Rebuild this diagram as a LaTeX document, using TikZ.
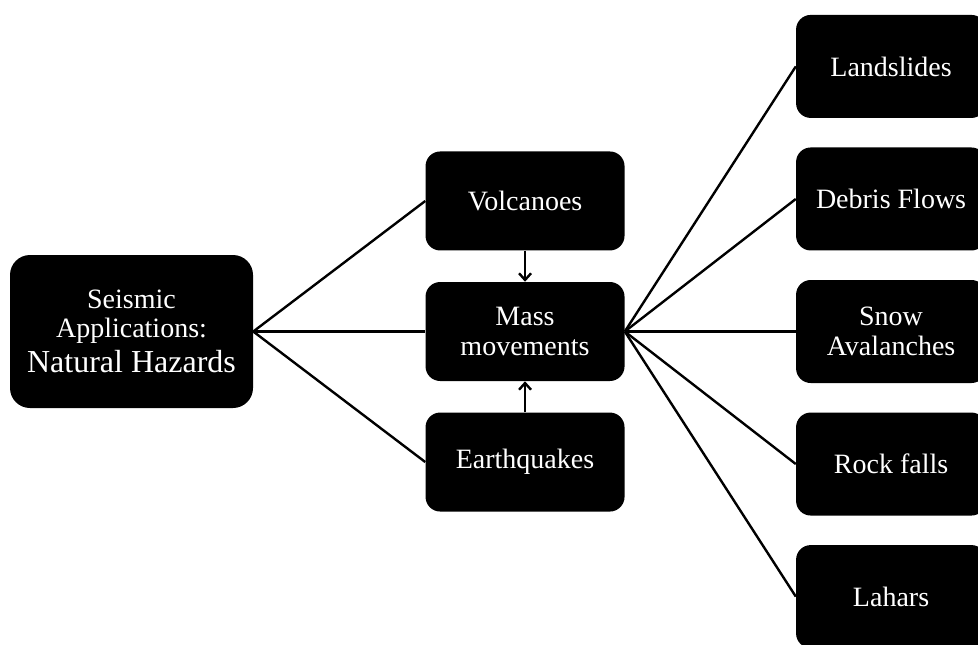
\documentclass[tikz,border=0pt]{standalone}
\usepackage{fontspec}
\setmainfont{Liberation Serif}
\usetikzlibrary{arrows.meta}
\usetikzlibrary{positioning}

\begin{document}
\begin{tikzpicture}[
    x=0.75pt, y=-0.75pt,
    auto,
    font=\fontsize{21}{22}\selectfont,
    >={Straight Barb[length=5pt,width=9pt]}
  ]

  % Global Style Definitions
  \tikzset{
    hazard/.style={fill=black, rounded corners=15pt, minimum width=182.25pt, minimum height=114.75pt, text=white, align=center},
    group/.style={fill=black, rounded corners=11pt, minimum width=149.25pt, minimum height=74.25pt, text=white, align=center},
    kind/.style={fill=black, rounded corners=11pt, minimum width=142.5pt, minimum height=77.25pt, text=white, align=center},
    link/.style={draw=black, line width=1.8pt}
  }

  \useasboundingbox (0,0) rectangle (978,644);

  % Root node
  \node (seismic) [hazard] at (131.5,331.5)
      {Seismic\\Applications:\\[4pt]{\fontsize{24}{29}\selectfont Natural Hazards}};

  % Middle column
  \node (mass)    [group, right=129pt of seismic] {Mass\\movements};
  \node (volcano) [group, above=23.25pt of mass] {Volcanoes};
  \node (quake)   [group, below=23.25pt of mass] {Earthquakes};

  % Right column
  \node (snow)      [kind, right=128.25pt of mass] {Snow\\Avalanches};
  \node (debris)    [kind, above=21.75pt of snow] {Debris Flows};
  \node (landslide) [kind, above=21.75pt of debris] {Landslides};
  \node (rock)      [kind, below=21.75pt of snow] {Rock falls};
  \node (lahar)     [kind, below=21.75pt of rock] {Lahars};

  % Edges from the root
  \draw[link] (seismic.east) -- (volcano.west);
  \draw[link] (seismic.east) -- (mass.west);
  \draw[link] (seismic.east) -- (quake.west);

  % Triggers into mass movements
  \draw[link, ->] (volcano) -- (mass);
  \draw[link, ->] (quake) -- (mass);

  % Fan out to the kinds
  \foreach \k in {landslide, debris, snow, rock, lahar}
    \draw[link] (mass.east) -- (\k.west);

\end{tikzpicture}
\end{document}
